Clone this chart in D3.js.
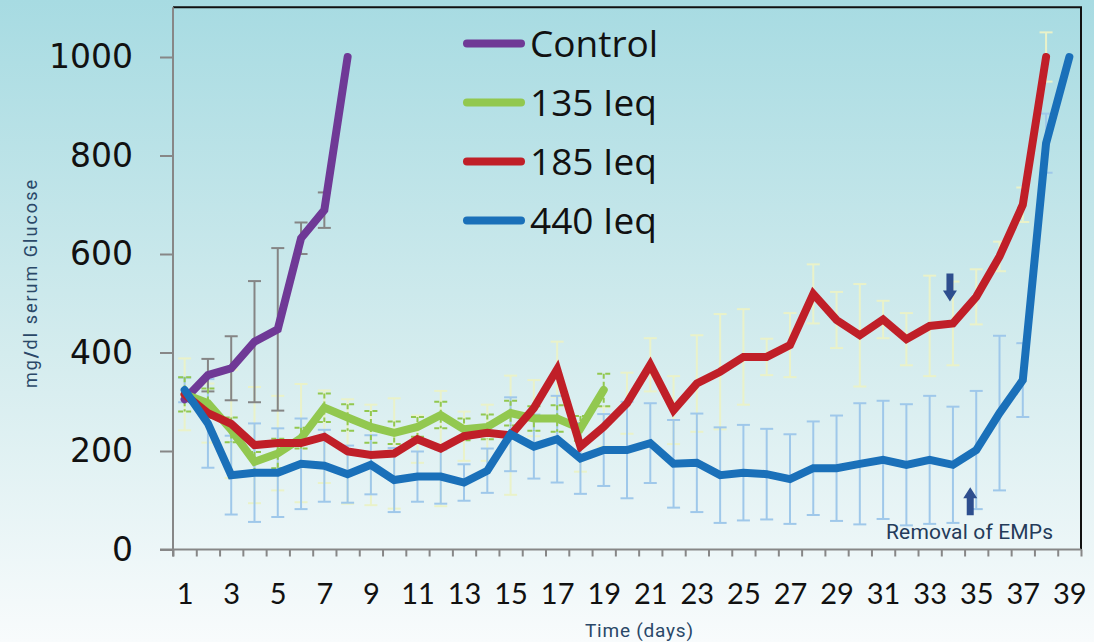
<!DOCTYPE html>
<html>
<head>
<meta charset="utf-8">
<script src="https://cdn.jsdelivr.net/npm/d3@7"></script>
<style>
body { margin: 0; overflow: hidden; }
</style>
</head>
<body>
<div id="chart"></div>
<script>
var days = [1,2,3,4,5,6,7,8,9,10,11,12,13,14,15,16,17,18,19,20,21,22,23,24,25,26,27,28,29,30,31,32,33,34,35,36,37,38,39];
var dayLabels = [1,3,5,7,9,11,13,15,17,19,21,23,25,27,29,31,33,35,37,39];
var yTicks = [0,200,400,600,800,1000];

var seriesNames = ["Control", "135 Ieq", "185 Ieq", "440 Ieq"];

var control = [305,354,368,422,447,632,689,1000];
var controlErr = [0,33,65,123,165,32,36,0];

var ieq135 = [315,297,243,178,195,226,288,268,249,237,249,273,244,249,277,266,266,246,324];
var ieq135Err = [35,30,25,20,30,21,29,27,32,23,20,27,22,25,25,25,27,25,33];

var ieq185 = [315,277,255,212,216,216,229,199,192,195,224,205,230,237,232,287,366,209,249,297,375,283,337,361,391,391,415,519,466,435,467,427,454,459,513,595,700,1000];
var ieq185Err = [73,60,110,118,96,120,94,106,102,112,48,117,50,57,121,57,56,51,40,62,54,69,98,117,97,37,65,60,57,104,38,53,102,85,56,30,35,50];

var ieq440 = [324,256,151,156,156,174,170,153,172,141,148,148,136,160,234,209,224,185,202,202,216,174,176,151,156,153,143,165,165,174,182,172,182,172,202,277,344,825,1000];
var ieq440Err = [25,90,80,100,90,92,73,58,60,65,51,55,37,45,75,65,88,72,73,98,81,89,100,97,97,92,91,95,107,123,120,123,130,118,120,157,75,60,0];

// removal of EMPs markers (day, glucose value)
var arrowDown = [34, 520];
var arrowUp = [35, 110];

var width = 1094;
var height = 642;

var colors = ["#6f3996", "#92c84f", "#c01f28", "#1a70b9"];
var errColors = ["#858585", "#92c84f", "#eaf2c9", "#9fc8ea"];

var svg = d3.select("#chart").append("svg")
    .attr("width", width)
    .attr("height", height)
    .style("font-family", "'Open Sans', sans-serif");

var defs = svg.append("defs");
var grad = defs.append("linearGradient").attr("id", "bg")
    .attr("x1", 0).attr("y1", 0).attr("x2", 0).attr("y2", 1);
grad.append("stop").attr("offset", "0%").attr("stop-color", "#a7dbe2");
grad.append("stop").attr("offset", "55%").attr("stop-color", "#d4ecee");
grad.append("stop").attr("offset", "100%").attr("stop-color", "#f8fbfc");

svg.append("rect").attr("width", width).attr("height", height).attr("fill", "url(#bg)");

var x = d3.scaleLinear().domain([0.5, 39.5]).range([173, 1081]);
var y = d3.scaleLinear().domain([0, 1000]).range([549.5, 57]);

// frame (top + right black)
svg.append("path")
    .attr("d", "M" + x(0.5) + "," + y(1101) + "H" + x(39.5) + "V" + y(0))
    .attr("fill", "none")
    .attr("stroke", "#111")
    .attr("stroke-width", 2);

// axes
var yAxis = d3.axisLeft(y).tickValues(yTicks).tickSize(13).tickSizeOuter(0).tickPadding(27).tickFormat(d3.format("d"));
var gy = svg.append("g").attr("transform", "translate(" + x(0.5) + ",0)").call(yAxis);
gy.select(".domain").remove();
gy.selectAll(".tick line").attr("stroke", "#878787").attr("stroke-width", 2);
gy.selectAll(".tick text")
    .style("font-family", "'DejaVu Sans', sans-serif")
    .style("font-size", "33px")
    .attr("fill", "#111");

var xMarks = d3.axisBottom(x).tickValues(d3.range(0.5, 40, 1)).tickSize(7).tickSizeOuter(0).tickFormat("");
var gxm = svg.append("g").attr("transform", "translate(0," + y(0) + ")").call(xMarks);
gxm.select(".domain").remove();
gxm.selectAll(".tick line").attr("stroke", "#878787").attr("stroke-width", 2);

var xAxis = d3.axisBottom(x).tickValues(dayLabels).tickSize(0).tickPadding(34);
var gx = svg.append("g").attr("transform", "translate(0," + y(0) + ")").call(xAxis);
gx.select(".domain").remove();
gx.selectAll(".tick text")
    .style("font-family", "Lato, sans-serif")
    .style("font-size", "29px")
    .attr("fill", "#111");

// axis lines
svg.append("line")
    .attr("x1", x(0.5)).attr("x2", x(0.5))
    .attr("y1", y(1101)).attr("y2", y(0) + 7)
    .attr("stroke", "#878787").attr("stroke-width", 2);
svg.append("line")
    .attr("x1", x(0.5) - 13).attr("x2", x(39.5))
    .attr("y1", y(0)).attr("y2", y(0))
    .attr("stroke", "#878787").attr("stroke-width", 2);

// axis titles
var yt = svg.append("text")
    .attr("transform", "translate(37," + 284 + ") rotate(-90)")
    .attr("text-anchor", "middle")
    .attr("textLength", 208)
    .attr("lengthAdjust", "spacing")
    .style("font-family", "Roboto, sans-serif")
    .style("font-size", "18px")
    .attr("fill", "#2a4868");
yt.append("tspan").text("mg");
yt.append("tspan").text("/").style("font-weight", "bold");
yt.append("tspan").text("dl serum Glucose");

svg.append("text")
    .attr("x", 639).attr("y", 637)
    .attr("text-anchor", "middle")
    .style("font-family", "Roboto, sans-serif")
    .style("font-size", "19px")
    .attr("textLength", 108)
    .attr("lengthAdjust", "spacing")
    .attr("fill", "#2a4868")
    .text("Time (days)");

var allSeries = [
    {vals: control, err: controlErr},
    {vals: ieq135, err: ieq135Err},
    {vals: ieq185, err: ieq185Err},
    {vals: ieq440, err: ieq440Err}
];

// error bars
var drawOrder = [2, 3, 0, 1];
drawOrder.forEach(function(si){
    var s = allSeries[si];
    var pts = s.vals.map(function(v, i){ return {day: days[i], v: v, e: s.err[i]}; });
    var g = svg.append("g")
        .attr("stroke", errColors[si])
        .attr("stroke-width", 2)
        .attr("fill", "none");
    if (si == 1) g.attr("stroke-dasharray", "5,3");
    var bars = g.selectAll("g").data(pts.filter(function(d){ return d.e > 0; })).enter().append("g");
    bars.append("line")
        .attr("x1", function(d){ return x(d.day); })
        .attr("x2", function(d){ return x(d.day); })
        .attr("y1", function(d){ return y(d.v + d.e); })
        .attr("y2", function(d){ return y(d.v - d.e); });
    bars.append("line")
        .attr("x1", function(d){ return x(d.day) - 6.5; })
        .attr("x2", function(d){ return x(d.day) + 6.5; })
        .attr("y1", function(d){ return y(d.v + d.e); })
        .attr("y2", function(d){ return y(d.v + d.e); });
    bars.append("line")
        .attr("x1", function(d){ return x(d.day) - 6.5; })
        .attr("x2", function(d){ return x(d.day) + 6.5; })
        .attr("y1", function(d){ return y(d.v - d.e); })
        .attr("y2", function(d){ return y(d.v - d.e); });
});

// lines
var line = d3.line()
    .x(function(d, i){ return x(days[i]); })
    .y(function(d){ return y(d); });

allSeries.forEach(function(s, si){
    svg.append("path")
        .datum(s.vals)
        .attr("d", line)
        .attr("fill", "none")
        .attr("stroke", colors[si])
        .attr("stroke-width", 8)
        .attr("stroke-linejoin", "miter")
        .attr("stroke-linecap", "round");
});

// legend
var legend = svg.selectAll(".legend")
    .data(seriesNames).enter().append("g")
    .attr("class", "legend")
    .attr("transform", function(d, i){ return "translate(0," + (43.5 + i * 59) + ")"; });
legend.append("line")
    .attr("x1", 467).attr("x2", 521)
    .attr("y1", 0).attr("y2", 0)
    .attr("stroke", function(d, i){ return colors[i]; })
    .attr("stroke-width", 8)
    .attr("stroke-linecap", "round");
legend.append("text")
    .attr("x", 530).attr("y", 13)
    .style("font-family", "'Open Sans', sans-serif")
    .style("font-size", "37px")
    .attr("fill", "#111")
    .text(function(d){ return d; });

// removal of EMPs arrows
var arrowColor = "#2e4e8e";
var ax = x(arrowDown[0]) - 3, ay = y(arrowDown[1]);
svg.append("path")
    .attr("d", "M" + (ax - 3.5) + "," + (ay - 20) + "H" + (ax + 3.5) + "V" + (ay - 3) +
        "H" + (ax + 7) + "L" + ax + "," + (ay + 8) + "L" + (ax - 7) + "," + (ay - 3) + "H" + (ax - 3.5) + "Z")
    .attr("fill", arrowColor);
var bx = x(arrowUp[0]) - 6, by = y(arrowUp[1]);
svg.append("path")
    .attr("d", "M" + (bx - 3.5) + "," + (by + 20) + "H" + (bx + 3.5) + "V" + (by + 3) +
        "H" + (bx + 7) + "L" + bx + "," + (by - 8) + "L" + (bx - 7) + "," + (by + 3) + "H" + (bx - 3.5) + "Z")
    .attr("fill", arrowColor);

svg.append("text")
    .attr("x", 886).attr("y", 539)
    .style("font-family", "Roboto, sans-serif")
    .style("font-size", "21px")
    .attr("textLength", 167)
    .attr("lengthAdjust", "spacing")
    .attr("fill", "#243b5a")
    .text("Removal of EMPs");
</script>
</body>
</html>
